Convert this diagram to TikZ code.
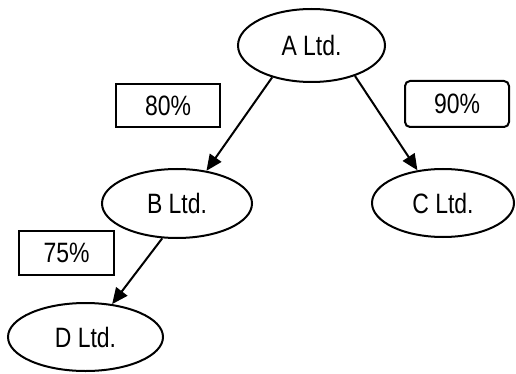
\documentclass[tikz,border=0pt]{standalone}
\usepackage{fontspec}
\setmainfont{Liberation Sans}[FakeStretch=0.82]
\usetikzlibrary{arrows.meta,shapes.geometric}
\begin{document}
\begin{tikzpicture}[x=1pt,y=-1pt,
  company/.style={draw, ellipse, line width=2pt, inner sep=0pt, font=\fontsize{28}{30}\selectfont},
  pct/.style={draw, rectangle, line width=2pt, inner sep=0pt, font=\fontsize{28}{30}\selectfont},
  link/.style={line width=2pt, -{Triangle[length=16pt,width=14pt]}}]
\useasboundingbox (0,0) rectangle (516,374);
\node[company, minimum width=147pt, minimum height=73pt] (A) at (311.5,45.5) {A Ltd.};
\node[company, minimum width=150pt, minimum height=69pt] (B) at (177,203.5) {B Ltd.};
\node[company, minimum width=142pt, minimum height=68pt] (C) at (443,203) {C Ltd.};
\node[company, minimum width=155pt, minimum height=68pt] (D) at (85.5,337) {D Ltd.};
\node[pct, minimum width=104pt, minimum height=43pt] (p80) at (168,105.5) {80\%};
\node[pct, rounded corners=5pt, minimum width=104pt, minimum height=46pt] (p90) at (457,104) {90\%};
\node[pct, minimum width=95pt, minimum height=44pt] (p75) at (66.5,253) {75\%};
\draw[link] (A.219) -- (B.48);
\draw[link] (A.325) -- (C.128);
\draw[link] (B.247) -- (D.51);
\end{tikzpicture}
\end{document}
